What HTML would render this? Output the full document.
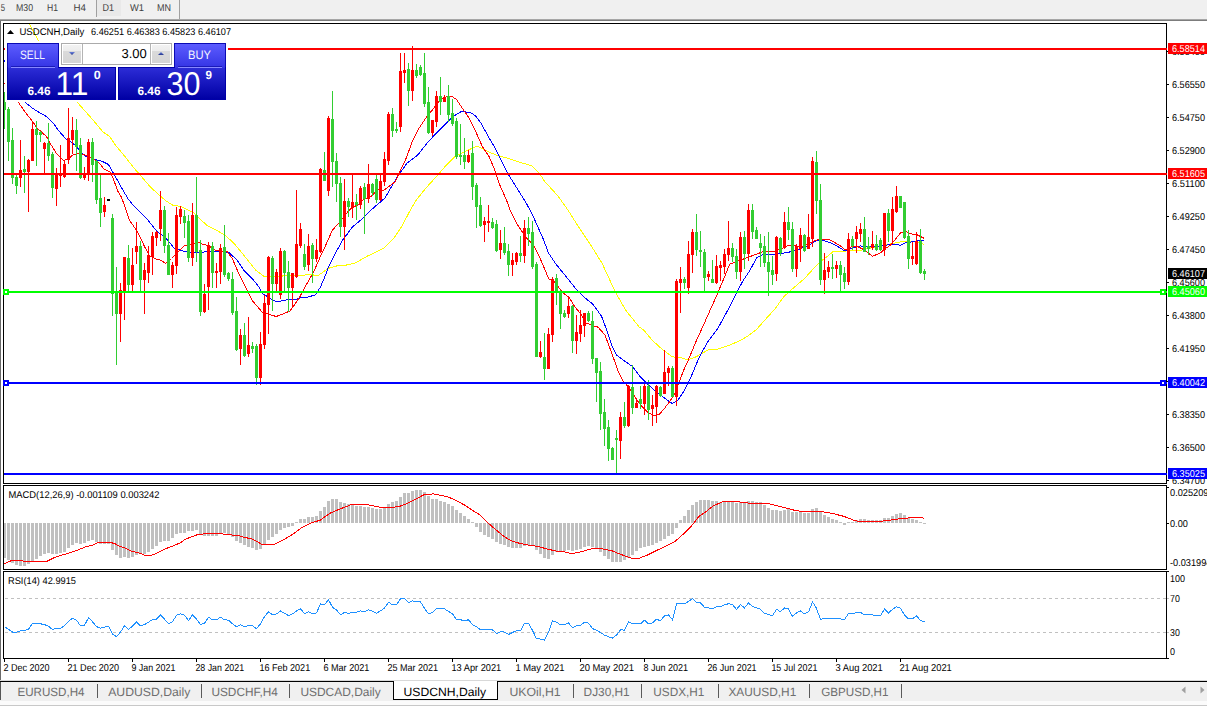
<!DOCTYPE html><html><head><meta charset="utf-8"><style>
html,body{margin:0;padding:0;background:#fff;width:1207px;height:706px;overflow:hidden;}
svg{position:absolute;left:0;top:0;}
text{font-family:"Liberation Sans", sans-serif;text-rendering:geometricPrecision;}
</style></head><body>
<svg width="1207" height="706" viewBox="0 0 1207 706" shape-rendering="crispEdges">
<defs>
<clipPath id="cm"><rect x="4" y="24" width="1162" height="459"/></clipPath>
<clipPath id="cmacd"><rect x="4" y="486" width="1162" height="83"/></clipPath>
<clipPath id="crsi"><rect x="4" y="572" width="1162" height="86"/></clipPath>
<linearGradient id="gh" x1="0" y1="0" x2="0" y2="1"><stop offset="0" stop-color="#5c5cff"/><stop offset="1" stop-color="#3434e4"/></linearGradient>
<linearGradient id="gl" x1="0" y1="0" x2="0" y2="1"><stop offset="0" stop-color="#2c2cd6"/><stop offset="1" stop-color="#0000a4"/></linearGradient>
<linearGradient id="gb" x1="0" y1="0" x2="0" y2="1"><stop offset="0" stop-color="#f2f2f2"/><stop offset="0.32" stop-color="#ececec"/><stop offset="0.33" stop-color="#dadada"/><stop offset="1" stop-color="#d4d4d4"/></linearGradient>
<linearGradient id="ga" x1="0" y1="0" x2="0" y2="1"><stop offset="0" stop-color="#6a82e0"/><stop offset="1" stop-color="#24358a"/></linearGradient>
</defs>
<rect x="0" y="0" width="1207" height="19" fill="#f0f0f0"/>
<rect x="0" y="19" width="1207" height="1" fill="#a6a6a6"/>
<rect x="0" y="20" width="1207" height="1" fill="#7c7c7c"/>
<rect x="97" y="0" width="24" height="16" fill="#e9e9e9"/>
<rect x="96" y="0" width="1" height="17" fill="#a0a0a0"/>
<rect x="179" y="0" width="1" height="19" fill="#a0a0a0"/>
<text x="0.8" y="11" font-size="10" fill="#404040" textLength="4.3" lengthAdjust="spacingAndGlyphs" >5</text>
<text x="16" y="11" font-size="10" fill="#404040" textLength="17" lengthAdjust="spacingAndGlyphs" >M30</text>
<text x="47" y="11" font-size="10" fill="#404040" textLength="11" lengthAdjust="spacingAndGlyphs" >H1</text>
<text x="73.5" y="11" font-size="10" fill="#404040" textLength="12.5" lengthAdjust="spacingAndGlyphs" >H4</text>
<text x="102.5" y="11" font-size="10" fill="#404040" textLength="11.5" lengthAdjust="spacingAndGlyphs" >D1</text>
<text x="130" y="11" font-size="10" fill="#404040" textLength="14" lengthAdjust="spacingAndGlyphs" >W1</text>
<text x="157" y="11" font-size="10" fill="#404040" textLength="14" lengthAdjust="spacingAndGlyphs" >MN</text>
<rect x="0" y="21" width="1" height="661" fill="#6a6a6a"/>
<g clip-path="url(#cm)">
<polyline points="29.0,23.5 34.0,32.5 39.0,41.5 45.5,52.5 77.5,102.5 85.5,111.5 93.5,120.5 102.5,131.5 109.5,136.5 116.5,146.5 125.0,156.5 133.5,167.5 140.3,175.3 150.5,187.2 159.0,194.8 165.8,200.8 172.5,205.0 181.1,206.7 187.9,210.1 194.7,213.5 201.5,220.3 206.5,225.1 215.0,229.4 225.2,235.3 233.7,243.0 242.2,253.2 249.0,261.7 255.8,270.2 264.3,276.7 271.1,277.0 281.3,276.1 291.5,275.3 301.7,275.3 311.9,274.5 317.0,276.1 322.5,272.5 327.9,268.5 335.5,266.1 345.8,265.2 356.0,262.7 366.2,256.7 374.7,252.5 384.9,247.4 393.4,238.9 401.9,226.1 410.4,210.0 416.5,199.8 425.5,188.5 435.5,177.5 446.5,164.9 455.0,156.4 465.2,151.3 477.1,146.2 489.0,152.1 497.5,155.5 507.7,158.1 519.6,162.3 531.5,165.7 540.0,174.2 544.7,181.5 557.5,195.4 568.1,210.2 578.7,227.2 591.5,246.3 602.1,263.3 614.8,290.9 625.5,310.0 639.2,327.0 643.3,329.6 651.8,339.8 662.0,349.1 672.2,356.8 680.7,357.6 687.5,359.9 696.0,356.8 707.9,350.0 718.1,349.1 730.0,344.9 740.2,340.6 748.7,335.5 756.5,329.5 766.7,318.0 775.2,308.7 783.7,296.8 792.2,289.1 804.1,278.9 812.6,269.6 821.1,261.1 827.9,256.0 833.0,251.7 841.5,251.7 846.6,250.9 855.1,250.0 861.9,250.0 867.0,248.3 876.5,247.5 883.7,245.2 892.2,243.5 900.7,241.8 909.1,241.8 917.6,241.8 924.4,244.4" fill="none" stroke="#ffff00" stroke-width="1" shape-rendering="crispEdges"/>
<polyline points="4.5,60.5 25.5,102.5 31.5,107.5 37.5,111.5 46.5,116.5 53.5,123.5 58.5,130.5 65.5,138.5 70.5,141.5 75.5,145.5 80.5,151.5 85.5,156.5 90.5,157.5 95.5,159.5 102.5,161.5 108.5,164.5 112.5,171.5 116.5,178.5 122.5,189.5 128.5,199.5 133.5,205.5 138.5,210.5 147.5,219.5 154.5,228.5 159.5,233.5 164.5,236.5 169.5,242.5 174.5,248.5 181.5,250.5 188.5,252.5 195.5,252.5 201.5,252.5 206.5,251.5 216.7,251.5 228.6,252.3 237.1,260.0 243.9,270.2 252.4,278.7 259.2,287.2 262.5,293.9 266.0,295.7 271.1,299.1 276.2,301.5 283.0,300.8 289.8,299.1 294.9,299.9 301.7,297.4 308.5,297.0 315.3,294.8 320.4,287.2 326.5,272.7 327.9,268.5 333.9,255.9 342.4,240.5 352.5,227.0 364.5,216.8 373.0,208.3 384.9,198.1 391.7,186.2 398.5,175.1 407.0,163.2 417.3,155.5 427.5,142.7 436.0,133.4 444.5,124.9 453.0,116.4 461.5,111.5 470.3,112.5 475.1,115.5 480.5,122.4 489.0,137.7 494.1,146.2 500.9,159.8 507.7,173.4 516.2,187.0 524.7,200.6 531.5,212.5 536.6,224.1 543.4,239.4 548.5,253.0 555.3,263.2 562.1,271.7 569.2,280.5 576.0,289.0 584.5,297.5 593.0,304.3 601.5,316.2 606.6,329.8 611.7,345.1 616.8,355.3 625.3,361.5 632.4,366.5 640.9,377.5 647.7,384.3 654.5,390.2 663.0,397.0 672.2,403.5 677.3,401.0 684.1,390.8 690.9,377.2 699.4,356.8 707.9,341.5 718.1,327.9 728.3,309.2 736.8,292.2 743.2,280.4 750.0,270.2 756.8,257.5 761.9,254.9 768.7,254.0 773.5,254.4 782.0,253.5 790.5,251.8 799.0,249.3 807.5,245.9 816.0,240.8 821.1,239.9 829.6,242.5 838.1,246.7 844.9,251.0 851.7,248.5 860.2,245.9 866.7,246.9 873.5,246.9 880.3,246.1 890.5,244.4 895.5,244.4 900.7,245.2 905.7,242.7 912.5,241.8 919.3,240.5 924.4,240.5" fill="none" stroke="#0000ff" stroke-width="1" shape-rendering="crispEdges"/>
<polyline points="4.5,83.5 18.5,102.5 25.5,112.5 32.5,121.5 37.5,128.5 46.5,136.5 51.5,145.5 56.5,153.5 63.5,160.5 68.5,158.5 73.5,154.5 78.5,153.5 83.5,154.5 88.5,156.5 94.5,159.5 99.5,163.5 104.5,169.5 109.5,171.5 112.5,176.5 117.5,190.5 121.5,197.5 124.5,205.5 129.5,220.5 137.5,231.5 144.5,246.5 149.5,255.5 154.5,258.5 161.5,260.5 165.5,263.5 171.5,258.5 176.5,253.5 181.5,248.5 184.5,245.5 191.5,244.5 198.5,242.5 203.5,244.5 208.5,245.5 215.0,250.0 220.5,250.9 226.9,251.5 232.0,258.0 238.8,273.5 245.6,287.2 252.4,300.8 262.5,312.5 269.4,314.5 276.2,316.5 283.0,314.0 289.8,311.0 294.9,304.2 300.0,296.5 306.8,283.8 313.6,271.9 320.4,256.5 326.5,243.5 332.2,230.4 339.0,222.7 345.8,214.2 350.9,208.3 357.7,204.9 364.5,198.9 371.3,196.4 378.1,189.6 383.2,190.5 388.3,187.0 395.1,181.9 398.5,174.3 405.3,160.5 412.2,141.9 419.0,128.3 425.8,118.1 432.6,109.6 439.4,101.1 444.5,97.4 451.3,96.0 456.4,99.4 462.5,108.5 468.5,117.3 475.4,130.9 482.2,146.2 489.0,156.4 494.1,168.3 499.2,183.6 506.0,198.9 511.1,212.5 517.9,225.5 526.4,237.7 533.2,244.5 540.0,258.1 545.1,270.0 548.5,278.5 555.3,282.5 562.4,292.4 569.2,297.5 574.3,306.0 581.1,314.5 586.2,323.0 591.3,325.0 598.1,327.2 604.9,334.9 610.0,348.5 615.1,362.5 617.9,370.7 623.0,380.9 629.0,387.7 634.9,397.0 640.9,405.5 647.7,412.3 653.6,415.7 659.6,414.0 664.7,408.1 669.8,401.3 674.9,393.5 679.0,382.3 683.5,370.7 687.5,361.9 696.0,341.5 704.5,322.8 711.3,307.5 717.7,293.1 724.5,277.0 729.6,264.2 736.4,261.7 743.2,259.1 750.0,256.6 756.8,254.0 765.0,251.0 773.5,251.8 780.3,249.3 787.1,245.9 795.6,245.9 802.4,246.7 807.5,244.2 814.3,240.8 819.4,239.1 827.9,239.1 834.7,242.5 841.5,246.7 844.9,250.1 851.7,246.7 858.5,247.0 865.0,250.3 872.6,256.3 880.3,252.9 885.4,248.6 890.5,245.2 895.5,239.3 900.7,232.5 905.7,231.6 912.5,234.2 917.6,235.0 924.4,238.4" fill="none" stroke="#ff0000" stroke-width="1" shape-rendering="crispEdges"/>
<rect x="4" y="92" width="1" height="37" fill="#32cd32"/>
<rect x="3" y="102" width="3" height="8" fill="#32cd32"/>
<rect x="8" y="107" width="1" height="54" fill="#32cd32"/>
<rect x="7" y="109" width="3" height="33" fill="#32cd32"/>
<rect x="12" y="128" width="1" height="56" fill="#32cd32"/>
<rect x="11" y="140" width="3" height="38" fill="#32cd32"/>
<rect x="16" y="173" width="1" height="21" fill="#32cd32"/>
<rect x="15" y="177" width="3" height="9" fill="#32cd32"/>
<rect x="20" y="140" width="1" height="47" fill="#ff0000"/>
<rect x="19" y="170" width="3" height="8" fill="#ff0000"/>
<rect x="24" y="156" width="1" height="37" fill="#32cd32"/>
<rect x="23" y="169" width="3" height="3" fill="#32cd32"/>
<rect x="28" y="159" width="1" height="53" fill="#ff0000"/>
<rect x="27" y="160" width="3" height="12" fill="#ff0000"/>
<rect x="32" y="122" width="1" height="39" fill="#ff0000"/>
<rect x="31" y="129" width="3" height="32" fill="#ff0000"/>
<rect x="36" y="121" width="1" height="45" fill="#32cd32"/>
<rect x="35" y="129" width="3" height="6" fill="#32cd32"/>
<rect x="40" y="131" width="1" height="11" fill="#32cd32"/>
<rect x="39" y="132" width="3" height="3" fill="#32cd32"/>
<rect x="44" y="142" width="1" height="32" fill="#ff0000"/>
<rect x="43" y="143" width="3" height="6" fill="#ff0000"/>
<rect x="48" y="123" width="1" height="38" fill="#32cd32"/>
<rect x="47" y="143" width="3" height="13" fill="#32cd32"/>
<rect x="52" y="152" width="1" height="46" fill="#32cd32"/>
<rect x="51" y="154" width="3" height="34" fill="#32cd32"/>
<rect x="56" y="168" width="1" height="38" fill="#ff0000"/>
<rect x="55" y="173" width="3" height="16" fill="#ff0000"/>
<rect x="60" y="145" width="1" height="42" fill="#ff0000"/>
<rect x="59" y="173" width="3" height="3" fill="#ff0000"/>
<rect x="64" y="161" width="1" height="17" fill="#ff0000"/>
<rect x="63" y="164" width="3" height="13" fill="#ff0000"/>
<rect x="68" y="108" width="1" height="56" fill="#ff0000"/>
<rect x="67" y="138" width="3" height="22" fill="#ff0000"/>
<rect x="72" y="117" width="1" height="37" fill="#ff0000"/>
<rect x="71" y="130" width="3" height="10" fill="#ff0000"/>
<rect x="76" y="119" width="1" height="52" fill="#32cd32"/>
<rect x="75" y="130" width="3" height="17" fill="#32cd32"/>
<rect x="80" y="138" width="1" height="41" fill="#32cd32"/>
<rect x="79" y="145" width="3" height="33" fill="#32cd32"/>
<rect x="84" y="167" width="1" height="13" fill="#ff0000"/>
<rect x="83" y="174" width="3" height="4" fill="#ff0000"/>
<rect x="88" y="139" width="1" height="42" fill="#ff0000"/>
<rect x="87" y="142" width="3" height="33" fill="#ff0000"/>
<rect x="92" y="138" width="1" height="44" fill="#32cd32"/>
<rect x="91" y="142" width="3" height="23" fill="#32cd32"/>
<rect x="96" y="160" width="1" height="44" fill="#32cd32"/>
<rect x="95" y="161" width="3" height="39" fill="#32cd32"/>
<rect x="100" y="174" width="1" height="53" fill="#32cd32"/>
<rect x="99" y="198" width="3" height="15" fill="#32cd32"/>
<rect x="104" y="197" width="1" height="20" fill="#ff0000"/>
<rect x="103" y="205" width="3" height="7" fill="#ff0000"/>
<rect x="108" y="199" width="1" height="2" fill="#000"/>
<rect x="107" y="199" width="3" height="2" fill="#000"/>
<rect x="112" y="214" width="1" height="102" fill="#32cd32"/>
<rect x="111" y="218" width="3" height="76" fill="#32cd32"/>
<rect x="116" y="267" width="1" height="98" fill="#32cd32"/>
<rect x="115" y="291" width="3" height="23" fill="#32cd32"/>
<rect x="120" y="283" width="1" height="59" fill="#ff0000"/>
<rect x="119" y="290" width="3" height="24" fill="#ff0000"/>
<rect x="124" y="257" width="1" height="63" fill="#ff0000"/>
<rect x="123" y="257" width="3" height="34" fill="#ff0000"/>
<rect x="128" y="245" width="1" height="47" fill="#32cd32"/>
<rect x="127" y="258" width="3" height="27" fill="#32cd32"/>
<rect x="132" y="248" width="1" height="43" fill="#ff0000"/>
<rect x="131" y="265" width="3" height="20" fill="#ff0000"/>
<rect x="136" y="222" width="1" height="42" fill="#ff0000"/>
<rect x="135" y="246" width="3" height="6" fill="#ff0000"/>
<rect x="140" y="241" width="1" height="52" fill="#32cd32"/>
<rect x="139" y="246" width="3" height="34" fill="#32cd32"/>
<rect x="144" y="263" width="1" height="51" fill="#ff0000"/>
<rect x="143" y="270" width="3" height="10" fill="#ff0000"/>
<rect x="148" y="246" width="1" height="37" fill="#ff0000"/>
<rect x="147" y="255" width="3" height="18" fill="#ff0000"/>
<rect x="152" y="232" width="1" height="43" fill="#ff0000"/>
<rect x="151" y="236" width="3" height="21" fill="#ff0000"/>
<rect x="156" y="231" width="1" height="15" fill="#ff0000"/>
<rect x="155" y="232" width="3" height="6" fill="#ff0000"/>
<rect x="160" y="191" width="1" height="50" fill="#ff0000"/>
<rect x="159" y="210" width="3" height="19" fill="#ff0000"/>
<rect x="164" y="206" width="1" height="47" fill="#32cd32"/>
<rect x="163" y="210" width="3" height="36" fill="#32cd32"/>
<rect x="168" y="233" width="1" height="42" fill="#32cd32"/>
<rect x="167" y="245" width="3" height="30" fill="#32cd32"/>
<rect x="172" y="262" width="1" height="26" fill="#ff0000"/>
<rect x="171" y="265" width="3" height="10" fill="#ff0000"/>
<rect x="176" y="207" width="1" height="67" fill="#ff0000"/>
<rect x="175" y="215" width="3" height="51" fill="#ff0000"/>
<rect x="180" y="206" width="1" height="18" fill="#ff0000"/>
<rect x="179" y="209" width="3" height="8" fill="#ff0000"/>
<rect x="184" y="210" width="1" height="28" fill="#32cd32"/>
<rect x="183" y="216" width="3" height="7" fill="#32cd32"/>
<rect x="188" y="215" width="1" height="47" fill="#32cd32"/>
<rect x="187" y="221" width="3" height="37" fill="#32cd32"/>
<rect x="192" y="203" width="1" height="63" fill="#ff0000"/>
<rect x="191" y="215" width="3" height="43" fill="#ff0000"/>
<rect x="196" y="177" width="1" height="85" fill="#32cd32"/>
<rect x="195" y="215" width="3" height="37" fill="#32cd32"/>
<rect x="200" y="240" width="1" height="76" fill="#32cd32"/>
<rect x="199" y="250" width="3" height="62" fill="#32cd32"/>
<rect x="204" y="284" width="1" height="29" fill="#ff0000"/>
<rect x="203" y="294" width="3" height="18" fill="#ff0000"/>
<rect x="208" y="242" width="1" height="68" fill="#ff0000"/>
<rect x="207" y="245" width="3" height="42" fill="#ff0000"/>
<rect x="212" y="242" width="1" height="46" fill="#32cd32"/>
<rect x="211" y="246" width="3" height="27" fill="#32cd32"/>
<rect x="216" y="263" width="1" height="25" fill="#ff0000"/>
<rect x="215" y="271" width="3" height="2" fill="#ff0000"/>
<rect x="220" y="244" width="1" height="40" fill="#ff0000"/>
<rect x="219" y="248" width="3" height="24" fill="#ff0000"/>
<rect x="224" y="225" width="1" height="52" fill="#32cd32"/>
<rect x="223" y="247" width="3" height="28" fill="#32cd32"/>
<rect x="228" y="272" width="1" height="9" fill="#32cd32"/>
<rect x="227" y="273" width="3" height="6" fill="#32cd32"/>
<rect x="232" y="272" width="1" height="43" fill="#32cd32"/>
<rect x="231" y="279" width="3" height="34" fill="#32cd32"/>
<rect x="236" y="297" width="1" height="54" fill="#32cd32"/>
<rect x="235" y="311" width="3" height="39" fill="#32cd32"/>
<rect x="240" y="329" width="1" height="36" fill="#ff0000"/>
<rect x="239" y="335" width="3" height="14" fill="#ff0000"/>
<rect x="244" y="323" width="1" height="34" fill="#32cd32"/>
<rect x="243" y="335" width="3" height="21" fill="#32cd32"/>
<rect x="248" y="317" width="1" height="40" fill="#ff0000"/>
<rect x="247" y="345" width="3" height="9" fill="#ff0000"/>
<rect x="252" y="342" width="1" height="11" fill="#32cd32"/>
<rect x="251" y="346" width="3" height="3" fill="#32cd32"/>
<rect x="256" y="344" width="1" height="41" fill="#32cd32"/>
<rect x="255" y="346" width="3" height="32" fill="#32cd32"/>
<rect x="260" y="332" width="1" height="53" fill="#ff0000"/>
<rect x="259" y="344" width="3" height="34" fill="#ff0000"/>
<rect x="264" y="295" width="1" height="54" fill="#ff0000"/>
<rect x="263" y="303" width="3" height="42" fill="#ff0000"/>
<rect x="268" y="256" width="1" height="78" fill="#ff0000"/>
<rect x="267" y="257" width="3" height="48" fill="#ff0000"/>
<rect x="272" y="256" width="1" height="55" fill="#32cd32"/>
<rect x="271" y="258" width="3" height="26" fill="#32cd32"/>
<rect x="276" y="269" width="1" height="24" fill="#ff0000"/>
<rect x="275" y="272" width="3" height="12" fill="#ff0000"/>
<rect x="280" y="248" width="1" height="51" fill="#ff0000"/>
<rect x="279" y="251" width="3" height="44" fill="#ff0000"/>
<rect x="284" y="250" width="1" height="42" fill="#32cd32"/>
<rect x="283" y="251" width="3" height="22" fill="#32cd32"/>
<rect x="288" y="261" width="1" height="51" fill="#32cd32"/>
<rect x="287" y="272" width="3" height="16" fill="#32cd32"/>
<rect x="292" y="273" width="1" height="34" fill="#ff0000"/>
<rect x="291" y="273" width="3" height="15" fill="#ff0000"/>
<rect x="296" y="190" width="1" height="88" fill="#ff0000"/>
<rect x="295" y="244" width="3" height="33" fill="#ff0000"/>
<rect x="300" y="223" width="1" height="25" fill="#ff0000"/>
<rect x="299" y="229" width="3" height="17" fill="#ff0000"/>
<rect x="304" y="244" width="1" height="26" fill="#32cd32"/>
<rect x="303" y="254" width="3" height="13" fill="#32cd32"/>
<rect x="308" y="234" width="1" height="37" fill="#ff0000"/>
<rect x="307" y="246" width="3" height="19" fill="#ff0000"/>
<rect x="312" y="243" width="1" height="40" fill="#32cd32"/>
<rect x="311" y="245" width="3" height="14" fill="#32cd32"/>
<rect x="316" y="239" width="1" height="23" fill="#ff0000"/>
<rect x="315" y="250" width="3" height="9" fill="#ff0000"/>
<rect x="320" y="168" width="1" height="85" fill="#ff0000"/>
<rect x="319" y="169" width="3" height="83" fill="#ff0000"/>
<rect x="324" y="152" width="1" height="29" fill="#32cd32"/>
<rect x="323" y="170" width="3" height="11" fill="#32cd32"/>
<rect x="328" y="116" width="1" height="80" fill="#ff0000"/>
<rect x="327" y="118" width="3" height="73" fill="#ff0000"/>
<rect x="332" y="91" width="1" height="96" fill="#32cd32"/>
<rect x="331" y="119" width="3" height="43" fill="#32cd32"/>
<rect x="336" y="153" width="1" height="49" fill="#32cd32"/>
<rect x="335" y="161" width="3" height="23" fill="#32cd32"/>
<rect x="340" y="177" width="1" height="60" fill="#32cd32"/>
<rect x="339" y="183" width="3" height="44" fill="#32cd32"/>
<rect x="344" y="179" width="1" height="71" fill="#ff0000"/>
<rect x="343" y="201" width="3" height="26" fill="#ff0000"/>
<rect x="348" y="198" width="1" height="19" fill="#32cd32"/>
<rect x="347" y="201" width="3" height="6" fill="#32cd32"/>
<rect x="352" y="175" width="1" height="43" fill="#ff0000"/>
<rect x="351" y="202" width="3" height="6" fill="#ff0000"/>
<rect x="356" y="194" width="1" height="26" fill="#32cd32"/>
<rect x="355" y="202" width="3" height="3" fill="#32cd32"/>
<rect x="360" y="186" width="1" height="23" fill="#ff0000"/>
<rect x="359" y="188" width="3" height="17" fill="#ff0000"/>
<rect x="364" y="183" width="1" height="51" fill="#32cd32"/>
<rect x="363" y="187" width="3" height="12" fill="#32cd32"/>
<rect x="368" y="164" width="1" height="39" fill="#ff0000"/>
<rect x="367" y="184" width="3" height="15" fill="#ff0000"/>
<rect x="372" y="183" width="1" height="13" fill="#32cd32"/>
<rect x="371" y="184" width="3" height="9" fill="#32cd32"/>
<rect x="376" y="175" width="1" height="28" fill="#32cd32"/>
<rect x="375" y="179" width="3" height="21" fill="#32cd32"/>
<rect x="380" y="175" width="1" height="26" fill="#ff0000"/>
<rect x="379" y="181" width="3" height="19" fill="#ff0000"/>
<rect x="384" y="152" width="1" height="34" fill="#ff0000"/>
<rect x="383" y="159" width="3" height="23" fill="#ff0000"/>
<rect x="388" y="112" width="1" height="53" fill="#ff0000"/>
<rect x="387" y="114" width="3" height="47" fill="#ff0000"/>
<rect x="392" y="108" width="1" height="29" fill="#32cd32"/>
<rect x="391" y="114" width="3" height="17" fill="#32cd32"/>
<rect x="396" y="122" width="1" height="11" fill="#32cd32"/>
<rect x="395" y="129" width="3" height="2" fill="#32cd32"/>
<rect x="400" y="53" width="1" height="79" fill="#ff0000"/>
<rect x="399" y="71" width="3" height="56" fill="#ff0000"/>
<rect x="404" y="53" width="1" height="30" fill="#ff0000"/>
<rect x="403" y="70" width="3" height="3" fill="#ff0000"/>
<rect x="408" y="63" width="1" height="43" fill="#32cd32"/>
<rect x="407" y="69" width="3" height="22" fill="#32cd32"/>
<rect x="412" y="46" width="1" height="55" fill="#ff0000"/>
<rect x="411" y="70" width="3" height="21" fill="#ff0000"/>
<rect x="416" y="64" width="1" height="14" fill="#32cd32"/>
<rect x="415" y="70" width="3" height="6" fill="#32cd32"/>
<rect x="420" y="65" width="1" height="11" fill="#32cd32"/>
<rect x="419" y="67" width="3" height="8" fill="#32cd32"/>
<rect x="424" y="53" width="1" height="54" fill="#32cd32"/>
<rect x="423" y="73" width="3" height="31" fill="#32cd32"/>
<rect x="428" y="87" width="1" height="47" fill="#32cd32"/>
<rect x="427" y="102" width="3" height="31" fill="#32cd32"/>
<rect x="432" y="120" width="1" height="16" fill="#ff0000"/>
<rect x="431" y="120" width="3" height="13" fill="#ff0000"/>
<rect x="436" y="91" width="1" height="36" fill="#ff0000"/>
<rect x="435" y="96" width="3" height="26" fill="#ff0000"/>
<rect x="440" y="77" width="1" height="38" fill="#32cd32"/>
<rect x="439" y="96" width="3" height="6" fill="#32cd32"/>
<rect x="444" y="95" width="1" height="7" fill="#ff0000"/>
<rect x="443" y="98" width="3" height="4" fill="#ff0000"/>
<rect x="448" y="85" width="1" height="37" fill="#32cd32"/>
<rect x="447" y="96" width="3" height="19" fill="#32cd32"/>
<rect x="452" y="99" width="1" height="27" fill="#32cd32"/>
<rect x="451" y="113" width="3" height="11" fill="#32cd32"/>
<rect x="456" y="118" width="1" height="41" fill="#32cd32"/>
<rect x="455" y="121" width="3" height="36" fill="#32cd32"/>
<rect x="460" y="124" width="1" height="41" fill="#32cd32"/>
<rect x="459" y="155" width="3" height="2" fill="#32cd32"/>
<rect x="464" y="138" width="1" height="31" fill="#32cd32"/>
<rect x="463" y="155" width="3" height="7" fill="#32cd32"/>
<rect x="468" y="150" width="1" height="13" fill="#ff0000"/>
<rect x="467" y="155" width="3" height="7" fill="#ff0000"/>
<rect x="472" y="141" width="1" height="59" fill="#32cd32"/>
<rect x="471" y="153" width="3" height="34" fill="#32cd32"/>
<rect x="476" y="183" width="1" height="45" fill="#32cd32"/>
<rect x="475" y="185" width="3" height="22" fill="#32cd32"/>
<rect x="480" y="197" width="1" height="30" fill="#32cd32"/>
<rect x="479" y="205" width="3" height="21" fill="#32cd32"/>
<rect x="484" y="217" width="1" height="25" fill="#ff0000"/>
<rect x="483" y="221" width="3" height="4" fill="#ff0000"/>
<rect x="488" y="205" width="1" height="27" fill="#ff0000"/>
<rect x="487" y="221" width="3" height="2" fill="#ff0000"/>
<rect x="492" y="218" width="1" height="11" fill="#32cd32"/>
<rect x="491" y="222" width="3" height="6" fill="#32cd32"/>
<rect x="496" y="220" width="1" height="32" fill="#32cd32"/>
<rect x="495" y="224" width="3" height="27" fill="#32cd32"/>
<rect x="500" y="230" width="1" height="29" fill="#ff0000"/>
<rect x="499" y="243" width="3" height="7" fill="#ff0000"/>
<rect x="504" y="227" width="1" height="28" fill="#32cd32"/>
<rect x="503" y="243" width="3" height="10" fill="#32cd32"/>
<rect x="508" y="244" width="1" height="32" fill="#32cd32"/>
<rect x="507" y="251" width="3" height="14" fill="#32cd32"/>
<rect x="512" y="253" width="1" height="23" fill="#ff0000"/>
<rect x="511" y="260" width="3" height="5" fill="#ff0000"/>
<rect x="516" y="252" width="1" height="13" fill="#ff0000"/>
<rect x="515" y="253" width="3" height="9" fill="#ff0000"/>
<rect x="520" y="236" width="1" height="26" fill="#32cd32"/>
<rect x="519" y="253" width="3" height="3" fill="#32cd32"/>
<rect x="524" y="220" width="1" height="43" fill="#ff0000"/>
<rect x="523" y="228" width="3" height="28" fill="#ff0000"/>
<rect x="528" y="217" width="1" height="29" fill="#32cd32"/>
<rect x="527" y="228" width="3" height="6" fill="#32cd32"/>
<rect x="532" y="221" width="1" height="48" fill="#32cd32"/>
<rect x="531" y="232" width="3" height="35" fill="#32cd32"/>
<rect x="536" y="262" width="1" height="95" fill="#32cd32"/>
<rect x="535" y="264" width="3" height="93" fill="#32cd32"/>
<rect x="540" y="341" width="1" height="17" fill="#ff0000"/>
<rect x="539" y="352" width="3" height="5" fill="#ff0000"/>
<rect x="544" y="333" width="1" height="47" fill="#32cd32"/>
<rect x="543" y="357" width="3" height="12" fill="#32cd32"/>
<rect x="548" y="328" width="1" height="41" fill="#ff0000"/>
<rect x="547" y="334" width="3" height="35" fill="#ff0000"/>
<rect x="552" y="277" width="1" height="65" fill="#ff0000"/>
<rect x="551" y="279" width="3" height="56" fill="#ff0000"/>
<rect x="556" y="274" width="1" height="31" fill="#32cd32"/>
<rect x="555" y="278" width="3" height="15" fill="#32cd32"/>
<rect x="560" y="290" width="1" height="39" fill="#32cd32"/>
<rect x="559" y="291" width="3" height="23" fill="#32cd32"/>
<rect x="564" y="310" width="1" height="8" fill="#32cd32"/>
<rect x="563" y="313" width="3" height="4" fill="#32cd32"/>
<rect x="568" y="297" width="1" height="21" fill="#ff0000"/>
<rect x="567" y="306" width="3" height="8" fill="#ff0000"/>
<rect x="572" y="305" width="1" height="48" fill="#32cd32"/>
<rect x="571" y="306" width="3" height="35" fill="#32cd32"/>
<rect x="576" y="315" width="1" height="39" fill="#ff0000"/>
<rect x="575" y="332" width="3" height="9" fill="#ff0000"/>
<rect x="580" y="310" width="1" height="32" fill="#ff0000"/>
<rect x="579" y="325" width="3" height="9" fill="#ff0000"/>
<rect x="584" y="313" width="1" height="24" fill="#ff0000"/>
<rect x="583" y="313" width="3" height="13" fill="#ff0000"/>
<rect x="588" y="311" width="1" height="11" fill="#32cd32"/>
<rect x="587" y="313" width="3" height="8" fill="#32cd32"/>
<rect x="592" y="311" width="1" height="53" fill="#32cd32"/>
<rect x="591" y="321" width="3" height="38" fill="#32cd32"/>
<rect x="596" y="358" width="1" height="44" fill="#32cd32"/>
<rect x="595" y="358" width="3" height="15" fill="#32cd32"/>
<rect x="600" y="362" width="1" height="68" fill="#32cd32"/>
<rect x="599" y="371" width="3" height="43" fill="#32cd32"/>
<rect x="604" y="399" width="1" height="47" fill="#32cd32"/>
<rect x="603" y="412" width="3" height="17" fill="#32cd32"/>
<rect x="608" y="420" width="1" height="41" fill="#32cd32"/>
<rect x="607" y="427" width="3" height="22" fill="#32cd32"/>
<rect x="612" y="447" width="1" height="13" fill="#32cd32"/>
<rect x="611" y="448" width="3" height="12" fill="#32cd32"/>
<rect x="616" y="430" width="1" height="44" fill="#32cd32"/>
<rect x="615" y="438" width="3" height="2" fill="#32cd32"/>
<rect x="620" y="412" width="1" height="47" fill="#ff0000"/>
<rect x="619" y="417" width="3" height="24" fill="#ff0000"/>
<rect x="624" y="402" width="1" height="26" fill="#32cd32"/>
<rect x="623" y="417" width="3" height="9" fill="#32cd32"/>
<rect x="628" y="385" width="1" height="42" fill="#ff0000"/>
<rect x="627" y="386" width="3" height="40" fill="#ff0000"/>
<rect x="632" y="365" width="1" height="49" fill="#32cd32"/>
<rect x="631" y="387" width="3" height="21" fill="#32cd32"/>
<rect x="636" y="399" width="1" height="9" fill="#ff0000"/>
<rect x="635" y="403" width="3" height="5" fill="#ff0000"/>
<rect x="640" y="386" width="1" height="23" fill="#32cd32"/>
<rect x="639" y="399" width="3" height="5" fill="#32cd32"/>
<rect x="644" y="383" width="1" height="32" fill="#ff0000"/>
<rect x="643" y="386" width="3" height="18" fill="#ff0000"/>
<rect x="648" y="380" width="1" height="40" fill="#32cd32"/>
<rect x="647" y="386" width="3" height="24" fill="#32cd32"/>
<rect x="652" y="395" width="1" height="31" fill="#ff0000"/>
<rect x="651" y="405" width="3" height="4" fill="#ff0000"/>
<rect x="656" y="385" width="1" height="38" fill="#ff0000"/>
<rect x="655" y="386" width="3" height="21" fill="#ff0000"/>
<rect x="660" y="386" width="1" height="11" fill="#32cd32"/>
<rect x="659" y="387" width="3" height="9" fill="#32cd32"/>
<rect x="664" y="350" width="1" height="44" fill="#ff0000"/>
<rect x="663" y="372" width="3" height="22" fill="#ff0000"/>
<rect x="668" y="366" width="1" height="20" fill="#ff0000"/>
<rect x="667" y="368" width="3" height="5" fill="#ff0000"/>
<rect x="672" y="366" width="1" height="31" fill="#32cd32"/>
<rect x="671" y="368" width="3" height="29" fill="#32cd32"/>
<rect x="676" y="279" width="1" height="127" fill="#ff0000"/>
<rect x="675" y="281" width="3" height="116" fill="#ff0000"/>
<rect x="680" y="267" width="1" height="46" fill="#ff0000"/>
<rect x="679" y="279" width="3" height="4" fill="#ff0000"/>
<rect x="684" y="277" width="1" height="12" fill="#32cd32"/>
<rect x="683" y="279" width="3" height="4" fill="#32cd32"/>
<rect x="688" y="241" width="1" height="53" fill="#ff0000"/>
<rect x="687" y="254" width="3" height="34" fill="#ff0000"/>
<rect x="692" y="229" width="1" height="44" fill="#ff0000"/>
<rect x="691" y="232" width="3" height="23" fill="#ff0000"/>
<rect x="696" y="214" width="1" height="42" fill="#32cd32"/>
<rect x="695" y="232" width="3" height="18" fill="#32cd32"/>
<rect x="700" y="231" width="1" height="36" fill="#32cd32"/>
<rect x="699" y="250" width="3" height="2" fill="#32cd32"/>
<rect x="704" y="249" width="1" height="43" fill="#32cd32"/>
<rect x="703" y="252" width="3" height="26" fill="#32cd32"/>
<rect x="708" y="271" width="1" height="10" fill="#ff0000"/>
<rect x="707" y="274" width="3" height="3" fill="#ff0000"/>
<rect x="712" y="260" width="1" height="23" fill="#32cd32"/>
<rect x="711" y="279" width="3" height="4" fill="#32cd32"/>
<rect x="716" y="255" width="1" height="29" fill="#ff0000"/>
<rect x="715" y="266" width="3" height="17" fill="#ff0000"/>
<rect x="720" y="261" width="1" height="20" fill="#ff0000"/>
<rect x="719" y="265" width="3" height="3" fill="#ff0000"/>
<rect x="724" y="249" width="1" height="25" fill="#ff0000"/>
<rect x="723" y="254" width="3" height="13" fill="#ff0000"/>
<rect x="728" y="221" width="1" height="40" fill="#ff0000"/>
<rect x="727" y="248" width="3" height="7" fill="#ff0000"/>
<rect x="732" y="243" width="1" height="19" fill="#32cd32"/>
<rect x="731" y="248" width="3" height="9" fill="#32cd32"/>
<rect x="736" y="249" width="1" height="30" fill="#32cd32"/>
<rect x="735" y="256" width="3" height="16" fill="#32cd32"/>
<rect x="740" y="232" width="1" height="49" fill="#ff0000"/>
<rect x="739" y="237" width="3" height="35" fill="#ff0000"/>
<rect x="744" y="231" width="1" height="38" fill="#32cd32"/>
<rect x="743" y="237" width="3" height="17" fill="#32cd32"/>
<rect x="748" y="204" width="1" height="57" fill="#ff0000"/>
<rect x="747" y="210" width="3" height="44" fill="#ff0000"/>
<rect x="752" y="204" width="1" height="35" fill="#32cd32"/>
<rect x="751" y="210" width="3" height="22" fill="#32cd32"/>
<rect x="756" y="227" width="1" height="12" fill="#32cd32"/>
<rect x="755" y="230" width="3" height="9" fill="#32cd32"/>
<rect x="760" y="234" width="1" height="33" fill="#32cd32"/>
<rect x="759" y="243" width="3" height="5" fill="#32cd32"/>
<rect x="764" y="236" width="1" height="31" fill="#32cd32"/>
<rect x="763" y="246" width="3" height="17" fill="#32cd32"/>
<rect x="768" y="232" width="1" height="64" fill="#32cd32"/>
<rect x="767" y="262" width="3" height="10" fill="#32cd32"/>
<rect x="772" y="256" width="1" height="29" fill="#32cd32"/>
<rect x="771" y="270" width="3" height="5" fill="#32cd32"/>
<rect x="776" y="236" width="1" height="45" fill="#ff0000"/>
<rect x="775" y="237" width="3" height="37" fill="#ff0000"/>
<rect x="780" y="237" width="1" height="19" fill="#32cd32"/>
<rect x="779" y="238" width="3" height="15" fill="#32cd32"/>
<rect x="784" y="212" width="1" height="37" fill="#ff0000"/>
<rect x="783" y="222" width="3" height="26" fill="#ff0000"/>
<rect x="788" y="207" width="1" height="33" fill="#32cd32"/>
<rect x="787" y="222" width="3" height="8" fill="#32cd32"/>
<rect x="792" y="222" width="1" height="50" fill="#32cd32"/>
<rect x="791" y="229" width="3" height="40" fill="#32cd32"/>
<rect x="796" y="244" width="1" height="33" fill="#ff0000"/>
<rect x="795" y="246" width="3" height="23" fill="#ff0000"/>
<rect x="800" y="228" width="1" height="34" fill="#ff0000"/>
<rect x="799" y="235" width="3" height="14" fill="#ff0000"/>
<rect x="804" y="234" width="1" height="18" fill="#32cd32"/>
<rect x="803" y="235" width="3" height="16" fill="#32cd32"/>
<rect x="808" y="214" width="1" height="35" fill="#ff0000"/>
<rect x="807" y="237" width="3" height="12" fill="#ff0000"/>
<rect x="812" y="157" width="1" height="90" fill="#ff0000"/>
<rect x="811" y="161" width="3" height="78" fill="#ff0000"/>
<rect x="816" y="151" width="1" height="63" fill="#32cd32"/>
<rect x="815" y="162" width="3" height="39" fill="#32cd32"/>
<rect x="820" y="184" width="1" height="101" fill="#32cd32"/>
<rect x="819" y="200" width="3" height="80" fill="#32cd32"/>
<rect x="824" y="253" width="1" height="41" fill="#ff0000"/>
<rect x="823" y="270" width="3" height="10" fill="#ff0000"/>
<rect x="828" y="261" width="1" height="17" fill="#ff0000"/>
<rect x="827" y="267" width="3" height="5" fill="#ff0000"/>
<rect x="832" y="254" width="1" height="25" fill="#32cd32"/>
<rect x="831" y="267" width="3" height="2" fill="#32cd32"/>
<rect x="836" y="261" width="1" height="17" fill="#ff0000"/>
<rect x="835" y="265" width="3" height="4" fill="#ff0000"/>
<rect x="840" y="261" width="1" height="30" fill="#32cd32"/>
<rect x="839" y="265" width="3" height="10" fill="#32cd32"/>
<rect x="844" y="267" width="1" height="22" fill="#32cd32"/>
<rect x="843" y="273" width="3" height="9" fill="#32cd32"/>
<rect x="848" y="233" width="1" height="52" fill="#ff0000"/>
<rect x="847" y="239" width="3" height="43" fill="#ff0000"/>
<rect x="852" y="236" width="1" height="14" fill="#32cd32"/>
<rect x="851" y="239" width="3" height="7" fill="#32cd32"/>
<rect x="856" y="226" width="1" height="27" fill="#ff0000"/>
<rect x="855" y="232" width="3" height="7" fill="#ff0000"/>
<rect x="860" y="223" width="1" height="19" fill="#ff0000"/>
<rect x="859" y="229" width="3" height="5" fill="#ff0000"/>
<rect x="864" y="217" width="1" height="35" fill="#32cd32"/>
<rect x="863" y="229" width="3" height="23" fill="#32cd32"/>
<rect x="868" y="237" width="1" height="18" fill="#32cd32"/>
<rect x="867" y="246" width="3" height="3" fill="#32cd32"/>
<rect x="872" y="231" width="1" height="19" fill="#ff0000"/>
<rect x="871" y="244" width="3" height="4" fill="#ff0000"/>
<rect x="876" y="235" width="1" height="16" fill="#32cd32"/>
<rect x="875" y="244" width="3" height="6" fill="#32cd32"/>
<rect x="880" y="238" width="1" height="13" fill="#32cd32"/>
<rect x="879" y="240" width="3" height="10" fill="#32cd32"/>
<rect x="884" y="213" width="1" height="43" fill="#ff0000"/>
<rect x="883" y="213" width="3" height="37" fill="#ff0000"/>
<rect x="888" y="209" width="1" height="33" fill="#32cd32"/>
<rect x="887" y="213" width="3" height="18" fill="#32cd32"/>
<rect x="892" y="197" width="1" height="45" fill="#ff0000"/>
<rect x="891" y="209" width="3" height="22" fill="#ff0000"/>
<rect x="896" y="186" width="1" height="27" fill="#ff0000"/>
<rect x="895" y="196" width="3" height="16" fill="#ff0000"/>
<rect x="900" y="196" width="1" height="12" fill="#32cd32"/>
<rect x="899" y="196" width="3" height="12" fill="#32cd32"/>
<rect x="904" y="202" width="1" height="37" fill="#32cd32"/>
<rect x="903" y="202" width="3" height="36" fill="#32cd32"/>
<rect x="908" y="230" width="1" height="39" fill="#32cd32"/>
<rect x="907" y="236" width="3" height="23" fill="#32cd32"/>
<rect x="912" y="242" width="1" height="23" fill="#ff0000"/>
<rect x="911" y="256" width="3" height="3" fill="#ff0000"/>
<rect x="916" y="232" width="1" height="33" fill="#ff0000"/>
<rect x="915" y="241" width="3" height="23" fill="#ff0000"/>
<rect x="920" y="229" width="1" height="45" fill="#32cd32"/>
<rect x="919" y="241" width="3" height="32" fill="#32cd32"/>
<rect x="924" y="269" width="1" height="11" fill="#32cd32"/>
<rect x="923" y="271" width="3" height="3" fill="#32cd32"/>
</g>
<rect x="3" y="23" width="1164" height="1" fill="#000"/>
<rect x="3" y="483" width="1164" height="1" fill="#000"/>
<rect x="3" y="23" width="1" height="461" fill="#000"/>
<rect x="1166" y="23" width="1" height="461" fill="#000"/>
<rect x="3" y="485" width="1164" height="1" fill="#000"/>
<rect x="3" y="569" width="1164" height="1" fill="#000"/>
<rect x="3" y="485" width="1" height="85" fill="#000"/>
<rect x="1166" y="485" width="1" height="85" fill="#000"/>
<rect x="3" y="571" width="1164" height="1" fill="#000"/>
<rect x="3" y="658" width="1164" height="1" fill="#000"/>
<rect x="3" y="571" width="1" height="88" fill="#000"/>
<rect x="1166" y="571" width="1" height="88" fill="#000"/>
<rect x="4" y="48" width="1163" height="2" fill="#ff0000"/>
<rect x="4" y="173" width="1163" height="2" fill="#ff0000"/>
<rect x="4" y="291" width="1163" height="2" fill="#00ff00"/>
<rect x="4" y="382" width="1163" height="2" fill="#0000ff"/>
<rect x="4" y="473" width="1163" height="2" fill="#0000ff"/>
<rect x="3" y="289" width="6" height="6" fill="#00ff00"/><rect x="5" y="291" width="2" height="2" fill="#fff"/>
<rect x="1160" y="289" width="6" height="6" fill="#00ff00"/><rect x="1162" y="291" width="2" height="2" fill="#fff"/>
<rect x="3" y="380" width="6" height="6" fill="#0000ff"/><rect x="5" y="382" width="2" height="2" fill="#fff"/>
<rect x="1160" y="380" width="6" height="6" fill="#0000ff"/><rect x="1162" y="382" width="2" height="2" fill="#fff"/>
<rect x="1167" y="84" width="2" height="1" fill="#000"/>
<text x="1172" y="88" font-size="10" fill="#000" textLength="33" lengthAdjust="spacingAndGlyphs" >6.56550</text>
<rect x="1167" y="117" width="2" height="1" fill="#000"/>
<text x="1172" y="121" font-size="10" fill="#000" textLength="33" lengthAdjust="spacingAndGlyphs" >6.54750</text>
<rect x="1167" y="150" width="2" height="1" fill="#000"/>
<text x="1172" y="154" font-size="10" fill="#000" textLength="33" lengthAdjust="spacingAndGlyphs" >6.52900</text>
<rect x="1167" y="183" width="2" height="1" fill="#000"/>
<text x="1172" y="187" font-size="10" fill="#000" textLength="33" lengthAdjust="spacingAndGlyphs" >6.51100</text>
<rect x="1167" y="216" width="2" height="1" fill="#000"/>
<text x="1172" y="220" font-size="10" fill="#000" textLength="33" lengthAdjust="spacingAndGlyphs" >6.49250</text>
<rect x="1167" y="249" width="2" height="1" fill="#000"/>
<text x="1172" y="253" font-size="10" fill="#000" textLength="33" lengthAdjust="spacingAndGlyphs" >6.47450</text>
<rect x="1167" y="282" width="2" height="1" fill="#000"/>
<text x="1172" y="286" font-size="10" fill="#000" textLength="33" lengthAdjust="spacingAndGlyphs" >6.45600</text>
<rect x="1167" y="315" width="2" height="1" fill="#000"/>
<text x="1172" y="319" font-size="10" fill="#000" textLength="33" lengthAdjust="spacingAndGlyphs" >6.43800</text>
<rect x="1167" y="348" width="2" height="1" fill="#000"/>
<text x="1172" y="352" font-size="10" fill="#000" textLength="33" lengthAdjust="spacingAndGlyphs" >6.41950</text>
<rect x="1167" y="414" width="2" height="1" fill="#000"/>
<text x="1172" y="418" font-size="10" fill="#000" textLength="33" lengthAdjust="spacingAndGlyphs" >6.38350</text>
<rect x="1167" y="447" width="2" height="1" fill="#000"/>
<text x="1172" y="451" font-size="10" fill="#000" textLength="33" lengthAdjust="spacingAndGlyphs" >6.36500</text>
<rect x="1167" y="480" width="2" height="1" fill="#000"/>
<text x="1172" y="484" font-size="10" fill="#000" textLength="33" lengthAdjust="spacingAndGlyphs" >6.34700</text>
<rect x="1167" y="51" width="2" height="1" fill="#000"/>
<text x="1172" y="55" font-size="10" fill="#000" textLength="33" lengthAdjust="spacingAndGlyphs" >6.58400</text>
<rect x="1167" y="381" width="2" height="1" fill="#000"/>
<text x="1172" y="385" font-size="10" fill="#000" textLength="33" lengthAdjust="spacingAndGlyphs" >6.40100</text>
<rect x="1168" y="43" width="39" height="11" fill="#ff0000"/>
<text x="1172" y="52" font-size="10" fill="#fff" textLength="33" lengthAdjust="spacingAndGlyphs" >6.58514</text>
<rect x="1168" y="168" width="39" height="11" fill="#ff0000"/>
<text x="1172" y="177" font-size="10" fill="#fff" textLength="33" lengthAdjust="spacingAndGlyphs" >6.51605</text>
<rect x="1168" y="268" width="39" height="11" fill="#000"/>
<text x="1172" y="277" font-size="10" fill="#fff" textLength="33" lengthAdjust="spacingAndGlyphs" >6.46107</text>
<rect x="1168" y="286" width="39" height="11" fill="#00ff00"/>
<text x="1172" y="295" font-size="10" fill="#fff" textLength="33" lengthAdjust="spacingAndGlyphs" >6.45060</text>
<rect x="1168" y="377" width="39" height="11" fill="#0000ff"/>
<text x="1172" y="386" font-size="10" fill="#fff" textLength="33" lengthAdjust="spacingAndGlyphs" >6.40042</text>
<rect x="1168" y="468" width="39" height="11" fill="#0000ff"/>
<text x="1172" y="477" font-size="10" fill="#fff" textLength="33" lengthAdjust="spacingAndGlyphs" >6.35025</text>
<rect x="1167" y="487" width="2" height="1" fill="#000"/>
<text x="1170" y="496" font-size="10" fill="#000" textLength="38.5" lengthAdjust="spacingAndGlyphs" >0.025209</text>
<rect x="1167" y="523" width="2" height="1" fill="#000"/>
<text x="1170" y="527" font-size="10" fill="#000" textLength="17.8" lengthAdjust="spacingAndGlyphs" >0.00</text>
<text x="1170" y="566" font-size="10" fill="#000" textLength="41.5" lengthAdjust="spacingAndGlyphs" >-0.031994</text>
<text x="1170" y="582" font-size="10" fill="#000" textLength="15" lengthAdjust="spacingAndGlyphs" >100</text>
<rect x="1167" y="598" width="2" height="1" fill="#c0c0c0"/>
<text x="1170" y="602" font-size="10" fill="#000" textLength="9.8" lengthAdjust="spacingAndGlyphs" >70</text>
<rect x="1167" y="632" width="2" height="1" fill="#c0c0c0"/>
<text x="1170" y="636" font-size="10" fill="#000" textLength="9.8" lengthAdjust="spacingAndGlyphs" >30</text>
<text x="1170" y="655" font-size="10" fill="#000" textLength="5" lengthAdjust="spacingAndGlyphs" >0</text>
<rect x="1167" y="571" width="2" height="1" fill="#000"/>
<rect x="1167" y="658" width="2" height="1" fill="#000"/>
<g clip-path="url(#cmacd)">
<rect x="3" y="523" width="3" height="35" fill="#c0c0c0"/>
<rect x="7" y="523" width="3" height="37" fill="#c0c0c0"/>
<rect x="11" y="523" width="3" height="40" fill="#c0c0c0"/>
<rect x="15" y="523" width="3" height="42" fill="#c0c0c0"/>
<rect x="19" y="523" width="3" height="43" fill="#c0c0c0"/>
<rect x="23" y="523" width="3" height="43" fill="#c0c0c0"/>
<rect x="27" y="523" width="3" height="41" fill="#c0c0c0"/>
<rect x="31" y="523" width="3" height="38" fill="#c0c0c0"/>
<rect x="35" y="523" width="3" height="36" fill="#c0c0c0"/>
<rect x="39" y="523" width="3" height="33" fill="#c0c0c0"/>
<rect x="43" y="523" width="3" height="31" fill="#c0c0c0"/>
<rect x="47" y="523" width="3" height="30" fill="#c0c0c0"/>
<rect x="51" y="523" width="3" height="31" fill="#c0c0c0"/>
<rect x="55" y="523" width="3" height="31" fill="#c0c0c0"/>
<rect x="59" y="523" width="3" height="30" fill="#c0c0c0"/>
<rect x="63" y="523" width="3" height="29" fill="#c0c0c0"/>
<rect x="67" y="523" width="3" height="25" fill="#c0c0c0"/>
<rect x="71" y="523" width="3" height="22" fill="#c0c0c0"/>
<rect x="75" y="523" width="3" height="20" fill="#c0c0c0"/>
<rect x="79" y="523" width="3" height="21" fill="#c0c0c0"/>
<rect x="83" y="523" width="3" height="20" fill="#c0c0c0"/>
<rect x="87" y="523" width="3" height="18" fill="#c0c0c0"/>
<rect x="91" y="523" width="3" height="17" fill="#c0c0c0"/>
<rect x="95" y="523" width="3" height="19" fill="#c0c0c0"/>
<rect x="99" y="523" width="3" height="21" fill="#c0c0c0"/>
<rect x="103" y="523" width="3" height="21" fill="#c0c0c0"/>
<rect x="107" y="523" width="3" height="21" fill="#c0c0c0"/>
<rect x="111" y="523" width="3" height="27" fill="#c0c0c0"/>
<rect x="115" y="523" width="3" height="32" fill="#c0c0c0"/>
<rect x="119" y="523" width="3" height="35" fill="#c0c0c0"/>
<rect x="123" y="523" width="3" height="34" fill="#c0c0c0"/>
<rect x="127" y="523" width="3" height="35" fill="#c0c0c0"/>
<rect x="131" y="523" width="3" height="34" fill="#c0c0c0"/>
<rect x="135" y="523" width="3" height="32" fill="#c0c0c0"/>
<rect x="139" y="523" width="3" height="31" fill="#c0c0c0"/>
<rect x="143" y="523" width="3" height="31" fill="#c0c0c0"/>
<rect x="147" y="523" width="3" height="29" fill="#c0c0c0"/>
<rect x="151" y="523" width="3" height="26" fill="#c0c0c0"/>
<rect x="155" y="523" width="3" height="23" fill="#c0c0c0"/>
<rect x="159" y="523" width="3" height="19" fill="#c0c0c0"/>
<rect x="163" y="523" width="3" height="18" fill="#c0c0c0"/>
<rect x="167" y="523" width="3" height="18" fill="#c0c0c0"/>
<rect x="171" y="523" width="3" height="15" fill="#c0c0c0"/>
<rect x="175" y="523" width="3" height="11" fill="#c0c0c0"/>
<rect x="179" y="523" width="3" height="10" fill="#c0c0c0"/>
<rect x="183" y="523" width="3" height="10" fill="#c0c0c0"/>
<rect x="187" y="523" width="3" height="8" fill="#c0c0c0"/>
<rect x="191" y="523" width="3" height="8" fill="#c0c0c0"/>
<rect x="195" y="523" width="3" height="7" fill="#c0c0c0"/>
<rect x="199" y="523" width="3" height="11" fill="#c0c0c0"/>
<rect x="203" y="523" width="3" height="13" fill="#c0c0c0"/>
<rect x="207" y="523" width="3" height="13" fill="#c0c0c0"/>
<rect x="211" y="523" width="3" height="13" fill="#c0c0c0"/>
<rect x="215" y="523" width="3" height="13" fill="#c0c0c0"/>
<rect x="219" y="523" width="3" height="11" fill="#c0c0c0"/>
<rect x="223" y="523" width="3" height="10" fill="#c0c0c0"/>
<rect x="227" y="523" width="3" height="11" fill="#c0c0c0"/>
<rect x="231" y="523" width="3" height="14" fill="#c0c0c0"/>
<rect x="235" y="523" width="3" height="18" fill="#c0c0c0"/>
<rect x="239" y="523" width="3" height="20" fill="#c0c0c0"/>
<rect x="243" y="523" width="3" height="22" fill="#c0c0c0"/>
<rect x="247" y="523" width="3" height="24" fill="#c0c0c0"/>
<rect x="251" y="523" width="3" height="25" fill="#c0c0c0"/>
<rect x="255" y="523" width="3" height="27" fill="#c0c0c0"/>
<rect x="259" y="523" width="3" height="26" fill="#c0c0c0"/>
<rect x="263" y="523" width="3" height="22" fill="#c0c0c0"/>
<rect x="267" y="523" width="3" height="17" fill="#c0c0c0"/>
<rect x="271" y="523" width="3" height="14" fill="#c0c0c0"/>
<rect x="275" y="523" width="3" height="11" fill="#c0c0c0"/>
<rect x="279" y="523" width="3" height="7" fill="#c0c0c0"/>
<rect x="283" y="523" width="3" height="5" fill="#c0c0c0"/>
<rect x="287" y="523" width="3" height="4" fill="#c0c0c0"/>
<rect x="291" y="523" width="3" height="3" fill="#c0c0c0"/>
<rect x="295" y="522" width="3" height="1" fill="#c0c0c0"/>
<rect x="299" y="519" width="3" height="4" fill="#c0c0c0"/>
<rect x="303" y="519" width="3" height="4" fill="#c0c0c0"/>
<rect x="307" y="517" width="3" height="6" fill="#c0c0c0"/>
<rect x="311" y="517" width="3" height="6" fill="#c0c0c0"/>
<rect x="315" y="516" width="3" height="7" fill="#c0c0c0"/>
<rect x="319" y="511" width="3" height="12" fill="#c0c0c0"/>
<rect x="323" y="507" width="3" height="16" fill="#c0c0c0"/>
<rect x="327" y="501" width="3" height="22" fill="#c0c0c0"/>
<rect x="331" y="499" width="3" height="24" fill="#c0c0c0"/>
<rect x="335" y="499" width="3" height="24" fill="#c0c0c0"/>
<rect x="339" y="502" width="3" height="21" fill="#c0c0c0"/>
<rect x="343" y="503" width="3" height="20" fill="#c0c0c0"/>
<rect x="347" y="504" width="3" height="19" fill="#c0c0c0"/>
<rect x="351" y="505" width="3" height="18" fill="#c0c0c0"/>
<rect x="355" y="506" width="3" height="17" fill="#c0c0c0"/>
<rect x="359" y="506" width="3" height="17" fill="#c0c0c0"/>
<rect x="363" y="507" width="3" height="16" fill="#c0c0c0"/>
<rect x="367" y="507" width="3" height="16" fill="#c0c0c0"/>
<rect x="371" y="508" width="3" height="15" fill="#c0c0c0"/>
<rect x="375" y="509" width="3" height="14" fill="#c0c0c0"/>
<rect x="379" y="509" width="3" height="14" fill="#c0c0c0"/>
<rect x="383" y="508" width="3" height="15" fill="#c0c0c0"/>
<rect x="387" y="504" width="3" height="19" fill="#c0c0c0"/>
<rect x="391" y="502" width="3" height="21" fill="#c0c0c0"/>
<rect x="395" y="501" width="3" height="22" fill="#c0c0c0"/>
<rect x="399" y="497" width="3" height="26" fill="#c0c0c0"/>
<rect x="403" y="493" width="3" height="30" fill="#c0c0c0"/>
<rect x="407" y="493" width="3" height="30" fill="#c0c0c0"/>
<rect x="411" y="491" width="3" height="32" fill="#c0c0c0"/>
<rect x="415" y="490" width="3" height="33" fill="#c0c0c0"/>
<rect x="419" y="490" width="3" height="33" fill="#c0c0c0"/>
<rect x="423" y="492" width="3" height="31" fill="#c0c0c0"/>
<rect x="427" y="496" width="3" height="27" fill="#c0c0c0"/>
<rect x="431" y="499" width="3" height="24" fill="#c0c0c0"/>
<rect x="435" y="499" width="3" height="24" fill="#c0c0c0"/>
<rect x="439" y="501" width="3" height="22" fill="#c0c0c0"/>
<rect x="443" y="502" width="3" height="21" fill="#c0c0c0"/>
<rect x="447" y="504" width="3" height="19" fill="#c0c0c0"/>
<rect x="451" y="506" width="3" height="17" fill="#c0c0c0"/>
<rect x="455" y="510" width="3" height="13" fill="#c0c0c0"/>
<rect x="459" y="513" width="3" height="10" fill="#c0c0c0"/>
<rect x="463" y="516" width="3" height="7" fill="#c0c0c0"/>
<rect x="467" y="519" width="3" height="4" fill="#c0c0c0"/>
<rect x="471" y="522" width="3" height="1" fill="#c0c0c0"/>
<rect x="475" y="523" width="3" height="4" fill="#c0c0c0"/>
<rect x="479" y="523" width="3" height="9" fill="#c0c0c0"/>
<rect x="483" y="523" width="3" height="12" fill="#c0c0c0"/>
<rect x="487" y="523" width="3" height="14" fill="#c0c0c0"/>
<rect x="491" y="523" width="3" height="16" fill="#c0c0c0"/>
<rect x="495" y="523" width="3" height="19" fill="#c0c0c0"/>
<rect x="499" y="523" width="3" height="21" fill="#c0c0c0"/>
<rect x="503" y="523" width="3" height="22" fill="#c0c0c0"/>
<rect x="507" y="523" width="3" height="24" fill="#c0c0c0"/>
<rect x="511" y="523" width="3" height="25" fill="#c0c0c0"/>
<rect x="515" y="523" width="3" height="25" fill="#c0c0c0"/>
<rect x="519" y="523" width="3" height="25" fill="#c0c0c0"/>
<rect x="523" y="523" width="3" height="23" fill="#c0c0c0"/>
<rect x="527" y="523" width="3" height="22" fill="#c0c0c0"/>
<rect x="531" y="523" width="3" height="23" fill="#c0c0c0"/>
<rect x="535" y="523" width="3" height="27" fill="#c0c0c0"/>
<rect x="539" y="523" width="3" height="31" fill="#c0c0c0"/>
<rect x="543" y="523" width="3" height="35" fill="#c0c0c0"/>
<rect x="547" y="523" width="3" height="36" fill="#c0c0c0"/>
<rect x="551" y="523" width="3" height="32" fill="#c0c0c0"/>
<rect x="555" y="523" width="3" height="29" fill="#c0c0c0"/>
<rect x="559" y="523" width="3" height="29" fill="#c0c0c0"/>
<rect x="563" y="523" width="3" height="28" fill="#c0c0c0"/>
<rect x="567" y="523" width="3" height="27" fill="#c0c0c0"/>
<rect x="571" y="523" width="3" height="28" fill="#c0c0c0"/>
<rect x="575" y="523" width="3" height="27" fill="#c0c0c0"/>
<rect x="579" y="523" width="3" height="26" fill="#c0c0c0"/>
<rect x="583" y="523" width="3" height="24" fill="#c0c0c0"/>
<rect x="587" y="523" width="3" height="23" fill="#c0c0c0"/>
<rect x="591" y="523" width="3" height="24" fill="#c0c0c0"/>
<rect x="595" y="523" width="3" height="26" fill="#c0c0c0"/>
<rect x="599" y="523" width="3" height="29" fill="#c0c0c0"/>
<rect x="603" y="523" width="3" height="33" fill="#c0c0c0"/>
<rect x="607" y="523" width="3" height="36" fill="#c0c0c0"/>
<rect x="611" y="523" width="3" height="39" fill="#c0c0c0"/>
<rect x="615" y="523" width="3" height="39" fill="#c0c0c0"/>
<rect x="619" y="523" width="3" height="39" fill="#c0c0c0"/>
<rect x="623" y="523" width="3" height="37" fill="#c0c0c0"/>
<rect x="627" y="523" width="3" height="35" fill="#c0c0c0"/>
<rect x="631" y="523" width="3" height="32" fill="#c0c0c0"/>
<rect x="635" y="523" width="3" height="28" fill="#c0c0c0"/>
<rect x="639" y="523" width="3" height="25" fill="#c0c0c0"/>
<rect x="643" y="523" width="3" height="24" fill="#c0c0c0"/>
<rect x="647" y="523" width="3" height="23" fill="#c0c0c0"/>
<rect x="651" y="523" width="3" height="22" fill="#c0c0c0"/>
<rect x="655" y="523" width="3" height="20" fill="#c0c0c0"/>
<rect x="659" y="523" width="3" height="18" fill="#c0c0c0"/>
<rect x="663" y="523" width="3" height="16" fill="#c0c0c0"/>
<rect x="667" y="523" width="3" height="13" fill="#c0c0c0"/>
<rect x="671" y="523" width="3" height="11" fill="#c0c0c0"/>
<rect x="675" y="523" width="3" height="5" fill="#c0c0c0"/>
<rect x="679" y="520" width="3" height="3" fill="#c0c0c0"/>
<rect x="683" y="516" width="3" height="7" fill="#c0c0c0"/>
<rect x="687" y="510" width="3" height="13" fill="#c0c0c0"/>
<rect x="691" y="505" width="3" height="18" fill="#c0c0c0"/>
<rect x="695" y="502" width="3" height="21" fill="#c0c0c0"/>
<rect x="699" y="500" width="3" height="23" fill="#c0c0c0"/>
<rect x="703" y="500" width="3" height="23" fill="#c0c0c0"/>
<rect x="707" y="500" width="3" height="23" fill="#c0c0c0"/>
<rect x="711" y="501" width="3" height="22" fill="#c0c0c0"/>
<rect x="715" y="501" width="3" height="22" fill="#c0c0c0"/>
<rect x="719" y="502" width="3" height="21" fill="#c0c0c0"/>
<rect x="723" y="502" width="3" height="21" fill="#c0c0c0"/>
<rect x="727" y="502" width="3" height="21" fill="#c0c0c0"/>
<rect x="731" y="502" width="3" height="21" fill="#c0c0c0"/>
<rect x="735" y="503" width="3" height="20" fill="#c0c0c0"/>
<rect x="739" y="502" width="3" height="21" fill="#c0c0c0"/>
<rect x="743" y="502" width="3" height="21" fill="#c0c0c0"/>
<rect x="747" y="501" width="3" height="22" fill="#c0c0c0"/>
<rect x="751" y="501" width="3" height="22" fill="#c0c0c0"/>
<rect x="755" y="502" width="3" height="21" fill="#c0c0c0"/>
<rect x="759" y="502" width="3" height="21" fill="#c0c0c0"/>
<rect x="763" y="505" width="3" height="18" fill="#c0c0c0"/>
<rect x="767" y="508" width="3" height="15" fill="#c0c0c0"/>
<rect x="771" y="510" width="3" height="13" fill="#c0c0c0"/>
<rect x="775" y="510" width="3" height="13" fill="#c0c0c0"/>
<rect x="779" y="511" width="3" height="12" fill="#c0c0c0"/>
<rect x="783" y="510" width="3" height="13" fill="#c0c0c0"/>
<rect x="787" y="509" width="3" height="14" fill="#c0c0c0"/>
<rect x="791" y="512" width="3" height="11" fill="#c0c0c0"/>
<rect x="795" y="512" width="3" height="11" fill="#c0c0c0"/>
<rect x="799" y="512" width="3" height="11" fill="#c0c0c0"/>
<rect x="803" y="513" width="3" height="10" fill="#c0c0c0"/>
<rect x="807" y="513" width="3" height="10" fill="#c0c0c0"/>
<rect x="811" y="509" width="3" height="14" fill="#c0c0c0"/>
<rect x="815" y="508" width="3" height="15" fill="#c0c0c0"/>
<rect x="819" y="512" width="3" height="11" fill="#c0c0c0"/>
<rect x="823" y="515" width="3" height="8" fill="#c0c0c0"/>
<rect x="827" y="517" width="3" height="6" fill="#c0c0c0"/>
<rect x="831" y="519" width="3" height="4" fill="#c0c0c0"/>
<rect x="835" y="520" width="3" height="3" fill="#c0c0c0"/>
<rect x="839" y="522" width="3" height="1" fill="#c0c0c0"/>
<rect x="843" y="523" width="3" height="2" fill="#c0c0c0"/>
<rect x="847" y="522" width="3" height="1" fill="#c0c0c0"/>
<rect x="851" y="522" width="3" height="1" fill="#c0c0c0"/>
<rect x="855" y="520" width="3" height="3" fill="#c0c0c0"/>
<rect x="859" y="519" width="3" height="4" fill="#c0c0c0"/>
<rect x="863" y="519" width="3" height="4" fill="#c0c0c0"/>
<rect x="867" y="520" width="3" height="3" fill="#c0c0c0"/>
<rect x="871" y="520" width="3" height="3" fill="#c0c0c0"/>
<rect x="875" y="520" width="3" height="3" fill="#c0c0c0"/>
<rect x="879" y="520" width="3" height="3" fill="#c0c0c0"/>
<rect x="883" y="518" width="3" height="5" fill="#c0c0c0"/>
<rect x="887" y="518" width="3" height="5" fill="#c0c0c0"/>
<rect x="891" y="516" width="3" height="7" fill="#c0c0c0"/>
<rect x="895" y="514" width="3" height="9" fill="#c0c0c0"/>
<rect x="899" y="513" width="3" height="10" fill="#c0c0c0"/>
<rect x="903" y="515" width="3" height="8" fill="#c0c0c0"/>
<rect x="907" y="518" width="3" height="5" fill="#c0c0c0"/>
<rect x="911" y="519" width="3" height="4" fill="#c0c0c0"/>
<rect x="915" y="520" width="3" height="3" fill="#c0c0c0"/>
<rect x="919" y="522" width="3" height="1" fill="#c0c0c0"/>
<rect x="923" y="523" width="3" height="1" fill="#c0c0c0"/>
<polyline points="4.5,563.5 10.5,561.0 13.5,560.5 22.5,560.5 23.5,561.5 46.5,561.5 48.5,560.5 53.5,558.0 60.1,555.5 66.8,553.8 73.4,551.5 76.5,550.5 86.5,546.5 91.5,545.5 98.5,542.5 110.5,542.5 114.5,543.5 119.2,546.0 125.2,548.0 132.2,551.5 138.1,552.5 144.1,555.0 150.1,555.5 154.0,554.5 160.0,551.5 166.0,548.5 171.9,546.5 179.9,543.0 185.8,539.0 196.5,535.0 198.5,534.5 207.5,533.5 222.3,533.5 224.3,534.5 231.3,534.5 232.3,535.5 238.2,535.5 241.2,536.5 245.2,537.5 252.1,539.0 256.1,541.0 261.1,544.0 264.1,544.5 274.0,544.5 279.0,542.0 284.9,539.0 290.9,535.5 295.9,532.0 301.8,527.5 312.5,522.5 320.0,520.3 329.9,513.3 339.9,509.0 351.8,504.4 365.7,504.4 375.7,506.4 383.6,508.0 391.6,507.4 399.5,506.4 407.5,503.4 415.4,499.4 423.4,495.0 433.3,493.8 441.3,495.4 449.2,497.4 457.2,501.0 465.1,505.4 472.5,510.4 480.5,515.3 488.4,523.3 496.4,530.2 504.3,536.8 512.3,541.2 520.2,543.5 528.2,545.1 536.1,546.1 546.1,548.7 556.0,551.1 565.9,552.1 571.9,553.7 579.9,552.1 591.8,548.7 601.7,548.7 611.7,550.7 621.6,554.7 631.5,558.1 639.5,558.1 647.4,555.1 657.4,550.1 667.3,545.5 675.3,541.2 683.2,534.2 691.2,526.3 699.1,516.3 705.1,512.3 712.5,506.4 714.5,505.4 722.4,501.8 738.3,501.8 748.3,503.0 766.2,503.0 774.1,505.0 784.0,507.4 796.0,510.7 805.9,511.7 821.8,511.7 831.8,513.3 843.7,516.3 855.6,520.9 867.5,521.7 877.4,521.7 883.4,520.9 893.4,519.7 903.3,518.3 913.3,517.7 922.2,517.7 924.2,518.9" fill="none" stroke="#ff0000" stroke-width="1" shape-rendering="crispEdges"/>
</g>
<text x="8.5" y="498" font-size="9.8" fill="#000" textLength="151" lengthAdjust="spacingAndGlyphs" >MACD(12,26,9) -0.001109 0.003242</text>
<g clip-path="url(#crsi)">
<line x1="5" y1="598.5" x2="1166" y2="598.5" stroke="#c0c0c0" stroke-dasharray="3,3"/>
<line x1="5" y1="632.5" x2="1166" y2="632.5" stroke="#c0c0c0" stroke-dasharray="3,3"/>
<polyline points="4.5,626.6 8.5,629.2 12.5,632.1 16.5,632.1 20.5,630.7 24.5,630.7 28.5,629.2 32.5,623.2 36.5,623.8 40.5,623.8 44.5,624.6 48.5,626.2 52.5,629.5 56.5,628.2 60.5,628.2 64.5,625.8 68.5,621.2 72.5,618.2 76.5,620.2 80.5,625.8 84.5,625.2 88.5,617.8 92.5,621.8 96.5,626.6 100.5,628.2 104.5,627.2 108.5,626.2 112.5,634.1 116.5,636.7 120.5,632.1 124.5,625.8 128.5,629.2 132.5,626.2 136.5,621.8 140.5,625.8 144.5,624.6 148.5,622.2 152.5,619.6 156.5,619.2 160.5,614.8 164.5,619.2 168.5,623.8 172.5,621.8 176.5,615.2 180.5,613.9 184.5,615.2 188.5,620.6 192.5,614.8 196.5,619.2 200.5,624.6 204.5,623.2 208.5,617.2 212.5,619.8 216.5,619.8 220.5,617.2 224.5,619.8 228.5,620.2 232.5,623.8 236.5,626.6 240.5,624.6 244.5,626.6 248.5,625.8 252.5,625.8 256.5,628.8 260.5,623.8 264.5,616.6 268.5,611.9 272.5,614.6 276.5,613.9 280.5,610.9 284.5,613.3 288.5,615.6 292.5,613.9 296.5,610.9 300.5,608.7 304.5,613.9 308.5,611.9 312.5,613.9 316.5,612.9 320.5,603.9 324.5,604.7 328.5,599.7 332.5,607.3 336.5,609.9 340.5,614.8 344.5,612.3 348.5,613.3 352.5,612.3 356.5,612.3 360.5,610.9 364.5,611.9 368.5,609.9 372.5,611.3 376.5,613.3 380.5,610.9 384.5,607.9 388.5,602.3 392.5,604.7 396.5,604.7 400.5,598.7 404.5,598.3 408.5,602.7 412.5,600.9 416.5,601.7 420.5,601.9 424.5,608.3 428.5,613.9 432.5,612.3 436.5,608.3 440.5,608.9 444.5,608.9 448.5,611.3 452.5,613.9 456.5,619.8 460.5,619.8 464.5,620.6 468.5,619.8 472.5,624.6 476.5,626.6 480.5,629.8 484.5,629.8 488.5,629.8 492.5,629.8 496.5,633.7 500.5,631.7 504.5,632.1 508.5,634.5 512.5,632.5 516.5,630.7 520.5,630.7 524.5,623.2 528.5,623.2 532.5,630.5 536.5,638.7 540.5,639.1 544.5,640.1 548.5,632.1 552.5,620.8 556.5,622.2 560.5,624.8 564.5,624.8 568.5,622.8 572.5,627.8 576.5,625.8 580.5,625.2 584.5,622.2 588.5,623.2 592.5,628.6 596.5,630.2 600.5,632.7 604.5,635.1 608.5,636.7 612.5,638.1 616.5,635.1 620.5,629.8 624.5,630.2 628.5,621.8 632.5,623.8 636.5,623.8 640.5,623.8 644.5,620.2 648.5,623.8 652.5,622.8 656.5,619.2 660.5,620.8 664.5,615.8 668.5,614.8 672.5,619.8 676.5,603.9 680.5,603.9 684.5,603.9 688.5,601.3 692.5,598.7 696.5,602.3 700.5,602.9 704.5,607.3 708.5,607.9 712.5,608.7 716.5,606.9 720.5,606.7 724.5,604.9 728.5,603.7 732.5,604.7 736.5,609.3 740.5,604.7 744.5,607.9 748.5,602.9 752.5,606.7 756.5,607.7 760.5,609.3 764.5,613.3 768.5,614.6 772.5,615.8 776.5,609.3 780.5,611.7 784.5,607.9 788.5,608.7 792.5,616.6 796.5,612.9 800.5,610.9 804.5,613.9 808.5,611.9 812.5,601.9 816.5,608.3 820.5,619.6 824.5,618.2 828.5,618.2 832.5,618.2 836.5,618.2 840.5,618.8 844.5,619.8 848.5,613.3 852.5,613.9 856.5,612.3 860.5,612.3 864.5,614.8 868.5,614.8 872.5,614.8 876.5,615.8 880.5,615.8 884.5,608.9 888.5,612.9 892.5,609.3 896.5,606.7 900.5,608.3 904.5,615.2 908.5,618.8 912.5,618.8 916.5,615.8 920.5,620.6 924.5,621.8" fill="none" stroke="#1e90ff" stroke-width="1" shape-rendering="crispEdges"/>
</g>
<text x="8" y="584" font-size="9.8" fill="#000" textLength="68" lengthAdjust="spacingAndGlyphs" >RSI(14) 42.9915</text>
<rect x="4" y="659" width="1" height="3" fill="#000"/>
<text x="3.4" y="671" font-size="10" fill="#000" textLength="46.2" lengthAdjust="spacingAndGlyphs" >2 Dec 2020</text>
<rect x="68" y="659" width="1" height="3" fill="#000"/>
<text x="67.4" y="671" font-size="10" fill="#000" textLength="51.7" lengthAdjust="spacingAndGlyphs" >21 Dec 2020</text>
<rect x="132" y="659" width="1" height="3" fill="#000"/>
<text x="131.4" y="671" font-size="10" fill="#000" textLength="44" lengthAdjust="spacingAndGlyphs" >9 Jan 2021</text>
<rect x="196" y="659" width="1" height="3" fill="#000"/>
<text x="195.4" y="671" font-size="10" fill="#000" textLength="48.7" lengthAdjust="spacingAndGlyphs" >28 Jan 2021</text>
<rect x="260" y="659" width="1" height="3" fill="#000"/>
<text x="259.4" y="671" font-size="10" fill="#000" textLength="50.8" lengthAdjust="spacingAndGlyphs" >16 Feb 2021</text>
<rect x="324" y="659" width="1" height="3" fill="#000"/>
<text x="323.4" y="671" font-size="10" fill="#000" textLength="46" lengthAdjust="spacingAndGlyphs" >6 Mar 2021</text>
<rect x="388" y="659" width="1" height="3" fill="#000"/>
<text x="387.4" y="671" font-size="10" fill="#000" textLength="50.7" lengthAdjust="spacingAndGlyphs" >25 Mar 2021</text>
<rect x="452" y="659" width="1" height="3" fill="#000"/>
<text x="451.4" y="671" font-size="10" fill="#000" textLength="49.8" lengthAdjust="spacingAndGlyphs" >13 Apr 2021</text>
<rect x="516" y="659" width="1" height="3" fill="#000"/>
<text x="515.4" y="671" font-size="10" fill="#000" textLength="49" lengthAdjust="spacingAndGlyphs" >1 May 2021</text>
<rect x="580" y="659" width="1" height="3" fill="#000"/>
<text x="579.4" y="671" font-size="10" fill="#000" textLength="54.5" lengthAdjust="spacingAndGlyphs" >20 May 2021</text>
<rect x="644" y="659" width="1" height="3" fill="#000"/>
<text x="643.4" y="671" font-size="10" fill="#000" textLength="44.6" lengthAdjust="spacingAndGlyphs" >8 Jun 2021</text>
<rect x="708" y="659" width="1" height="3" fill="#000"/>
<text x="707.4" y="671" font-size="10" fill="#000" textLength="49.2" lengthAdjust="spacingAndGlyphs" >26 Jun 2021</text>
<rect x="772" y="659" width="1" height="3" fill="#000"/>
<text x="771.4" y="671" font-size="10" fill="#000" textLength="46" lengthAdjust="spacingAndGlyphs" >15 Jul 2021</text>
<rect x="836" y="659" width="1" height="3" fill="#000"/>
<text x="835.4" y="671" font-size="10" fill="#000" textLength="47.4" lengthAdjust="spacingAndGlyphs" >3 Aug 2021</text>
<rect x="900" y="659" width="1" height="3" fill="#000"/>
<text x="899.4" y="671" font-size="10" fill="#000" textLength="52.4" lengthAdjust="spacingAndGlyphs" >21 Aug 2021</text>
<rect x="0" y="680" width="1207" height="1" fill="#d8d8d8"/>
<rect x="0" y="681" width="1207" height="1" fill="#000"/>
<rect x="0" y="682" width="1207" height="19" fill="#f0f0f0"/>
<rect x="0" y="682" width="1" height="18" fill="#555"/>
<rect x="0" y="701" width="1207" height="4" fill="#fbfbfb"/>
<rect x="0" y="705" width="1207" height="1" fill="#c8c8c8"/>
<text x="17.4" y="696" font-size="12" fill="#6e6e6e" textLength="67.2" lengthAdjust="spacingAndGlyphs" >EURUSD,H4</text>
<text x="108.2" y="696" font-size="12" fill="#6e6e6e" textLength="82.1" lengthAdjust="spacingAndGlyphs" >AUDUSD,Daily</text>
<text x="211.4" y="696" font-size="12" fill="#6e6e6e" textLength="66.5" lengthAdjust="spacingAndGlyphs" >USDCHF,H4</text>
<text x="300.4" y="696" font-size="12" fill="#6e6e6e" textLength="80.3" lengthAdjust="spacingAndGlyphs" >USDCAD,Daily</text>
<text x="509.4" y="696" font-size="12" fill="#6e6e6e" textLength="51.2" lengthAdjust="spacingAndGlyphs" >UKOil,H1</text>
<text x="583.6" y="696" font-size="12" fill="#6e6e6e" textLength="46.1" lengthAdjust="spacingAndGlyphs" >DJ30,H1</text>
<text x="653.3" y="696" font-size="12" fill="#6e6e6e" textLength="51" lengthAdjust="spacingAndGlyphs" >USDX,H1</text>
<text x="728.4" y="696" font-size="12" fill="#6e6e6e" textLength="67.9" lengthAdjust="spacingAndGlyphs" >XAUUSD,H1</text>
<text x="821.2" y="696" font-size="12" fill="#6e6e6e" textLength="67.3" lengthAdjust="spacingAndGlyphs" >GBPUSD,H1</text>
<rect x="97" y="684" width="1" height="14" fill="#5a5a5a"/>
<rect x="201" y="684" width="1" height="14" fill="#5a5a5a"/>
<rect x="289" y="684" width="1" height="14" fill="#5a5a5a"/>
<rect x="573" y="684" width="1" height="14" fill="#5a5a5a"/>
<rect x="641" y="684" width="1" height="14" fill="#5a5a5a"/>
<rect x="718" y="684" width="1" height="14" fill="#5a5a5a"/>
<rect x="809" y="684" width="1" height="14" fill="#5a5a5a"/>
<rect x="901" y="684" width="1" height="14" fill="#5a5a5a"/>
<rect x="393" y="681" width="105" height="19" fill="#fff"/>
<rect x="393" y="681" width="1" height="19" fill="#000"/><rect x="497" y="681" width="1" height="19" fill="#000"/><rect x="393" y="699" width="105" height="1" fill="#000"/>
<text x="403.6" y="696" font-size="12" fill="#000" textLength="82.4" lengthAdjust="spacingAndGlyphs" >USDCNH,Daily</text>
<path d="M1185.5,686.5 L1181.5,690 L1185.5,693.5 Z" fill="#a0a0a0" shape-rendering="auto"/>
<path d="M1200.5,686.5 L1204.5,690 L1200.5,693.5 Z" fill="#a0a0a0" shape-rendering="auto"/>
<path d="M7,34 L10.5,30 L14,34 Z" fill="#000" shape-rendering="auto"/>
<text x="19.4" y="35" font-size="9.8" fill="#000" textLength="65" lengthAdjust="spacingAndGlyphs" >USDCNH,Daily</text>
<text x="91" y="35" font-size="9.8" fill="#000" textLength="140" lengthAdjust="spacingAndGlyphs" >6.46251 6.46383 6.45823 6.46107</text>
<rect x="5" y="41" width="223" height="61" fill="#fff"/>
<rect x="7" y="43" width="52" height="24" fill="#0a0ab4"/>
<rect x="8" y="44" width="50" height="23" fill="url(#gh)"/>
<rect x="174" y="43" width="52" height="24" fill="#0a0ab4"/>
<rect x="175" y="44" width="50" height="23" fill="url(#gh)"/>
<rect x="7" y="67" width="109" height="33" fill="#0000a8"/>
<rect x="8" y="68" width="107" height="31" fill="url(#gl)"/>
<rect x="118" y="67" width="108" height="33" fill="#0000a8"/>
<rect x="119" y="68" width="106" height="31" fill="url(#gl)"/>
<rect x="8" y="44" width="50" height="24" fill="url(#gh)"/>
<rect x="175" y="44" width="50" height="24" fill="url(#gh)"/>
<rect x="11" y="66" width="44" height="1" fill="#1a1ab8"/>
<rect x="11" y="67" width="44" height="1" fill="#8888ff"/>
<rect x="178" y="66" width="44" height="1" fill="#1a1ab8"/>
<rect x="178" y="67" width="44" height="1" fill="#8888ff"/>
<rect x="61" y="43" width="111" height="22" fill="#ababab"/>
<rect x="62" y="44" width="109" height="20" fill="#fff"/>
<rect x="63" y="45" width="18" height="18" fill="url(#gb)"/>
<rect x="82" y="44" width="1" height="20" fill="#b4b4b4"/>
<rect x="152" y="45" width="18" height="18" fill="url(#gb)"/>
<rect x="150" y="44" width="1" height="20" fill="#b4b4b4"/>
<path d="M69,52 L75,52 L72,55 Z" fill="url(#ga)" shape-rendering="auto"/>
<path d="M158,55 L164,55 L161,52 Z" fill="url(#ga)" shape-rendering="auto"/>
<text x="146.8" y="58" font-size="13" fill="#000" text-anchor="end" >3.00</text>
<text x="20" y="59" font-size="12.3" fill="#f4f4ff" textLength="25" lengthAdjust="spacingAndGlyphs" >SELL</text>
<text x="188" y="59" font-size="12.3" fill="#f4f4ff" textLength="23" lengthAdjust="spacingAndGlyphs" >BUY</text>
<text x="27.5" y="95" font-size="12" fill="#fff" textLength="23" lengthAdjust="spacingAndGlyphs" font-weight="bold" >6.46</text>
<text x="137.5" y="95" font-size="12" fill="#fff" textLength="23" lengthAdjust="spacingAndGlyphs" font-weight="bold" >6.46</text>
<text x="55.5" y="95" font-size="33" fill="#fff" textLength="33" lengthAdjust="spacingAndGlyphs" >11</text>
<text x="166.5" y="95" font-size="33" fill="#fff" textLength="34" lengthAdjust="spacingAndGlyphs" >30</text>
<text x="93.8" y="79.3" font-size="12" fill="#fff" textLength="7" lengthAdjust="spacingAndGlyphs" font-weight="bold" >0</text>
<text x="205.5" y="79.3" font-size="12" fill="#fff" textLength="6.5" lengthAdjust="spacingAndGlyphs" font-weight="bold" >9</text>
</svg></body></html>
